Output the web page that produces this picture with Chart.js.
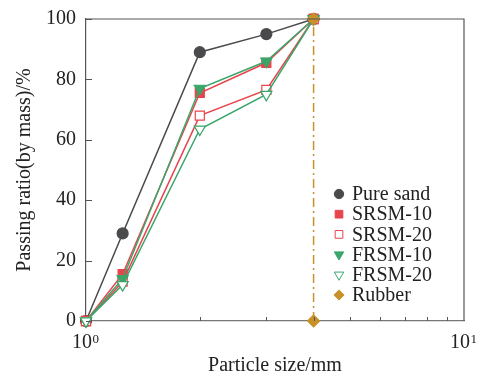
<!DOCTYPE html>
<html>
<head>
<meta charset="utf-8">
<script src="https://cdn.jsdelivr.net/npm/chart.js@4/dist/chart.umd.min.js"></script>
<style>
  html, body { margin: 0; padding: 0; background: #fff; }
  #wrap { width: 481px; height: 378px; }
</style>
</head>
<body>
<div id="wrap"><canvas id="myChart" width="481" height="378"></canvas></div>
<script>
// Sieve sizes (mm) and passing ratios (%)
const sizes = [1, 1.25, 2, 3, 4];
const pureSand = [0, 29, 89, 95, 100];
const srsm10 = [0, 15.5, 75.5, 85.5, 100];
const srsm20 = [0, 13, 68, 76.5, 100];
const frsm10 = [0, 14, 77, 86, 100];
const frsm20 = [0, 12, 63.5, 75, 100];
const rubberSize = [4, 4];
const rubber = [0, 100];
const yTicks = [0, 20, 40, 60, 80, 100];
const xMajor = [1, 10];
const xExponents = ['0', '1'];
const seriesNames = ['Pure sand', 'SRSM-10', 'SRSM-20', 'FRSM-10', 'FRSM-20', 'Rubber'];

const FONT = "'Liberation Serif', 'Times New Roman', serif";
const AXIS = '#555';

function pts(xs, ys) {
    return xs.map((x, i) => ({ x: x, y: ys[i] }));
}

function series(label, xs, ys, color, style, filled, radius, rotation, order, dash) {
    return {
        label: label,
        data: pts(xs, ys),
        borderColor: color,
        backgroundColor: color,
        borderWidth: 1.5,
        borderDash: dash || [],
        pointStyle: style,
        pointRadius: radius,
        pointRotation: rotation,
        pointBackgroundColor: filled ? color : '#fff',
        pointBorderColor: color,
        pointBorderWidth: 1.2,
        tension: 0,
        clip: false,
        order: order
    };
}

// Inward ticks, the box frame, exponents and the legend inside the plot
const framePlugin = {
    id: 'frame',
    afterDraw(chart) {
        const { ctx, chartArea: a, scales } = chart;
        ctx.save();
        ctx.strokeStyle = AXIS;
        ctx.lineWidth = 1.2;
        ctx.beginPath();
        ctx.moveTo(a.left, a.top);
        ctx.lineTo(a.right, a.top);
        ctx.lineTo(a.right, a.bottom);
        ctx.stroke();
        // y ticks (inward)
        ctx.lineWidth = 1;
        yTicks.forEach(v => {
            const y = Math.round(scales.y.getPixelForValue(v)) + 0.5;
            ctx.beginPath();
            ctx.moveTo(a.left, y);
            ctx.lineTo(a.left + 6, y);
            ctx.stroke();
        });
        // x minor ticks (inward)
        for (let v = 2; v <= 9; v++) {
            const x = Math.round(scales.x.getPixelForValue(v)) + 0.5;
            ctx.beginPath();
            ctx.moveTo(x, a.bottom);
            ctx.lineTo(x, a.bottom - 4);
            ctx.stroke();
        }
        // exponents of the x tick labels
        ctx.font = '20px ' + FONT;
        const w10 = ctx.measureText('10').width;
        const wAll = ctx.measureText('10\u2009\u2009').width;
        ctx.font = '13px ' + FONT;
        ctx.fillStyle = '#222';
        ctx.textBaseline = 'top';
        ctx.textAlign = 'left';
        xMajor.forEach((v, i) => {
            const x = scales.x.getPixelForValue(v) - wAll / 2 + w10 + 0.5;
            ctx.fillText(xExponents[i], x, a.bottom + 12);
        });
        // legend
        const lx = 339, tx = 352, ly0 = 194, dy = 20.2;
        ctx.font = '20px ' + FONT;
        ctx.textBaseline = 'middle';
        ctx.textAlign = 'left';
        chart.data.datasets.forEach((ds, i) => {
            const y = ly0 + i * dy;
            ctx.fillStyle = ds.pointBackgroundColor;
            ctx.strokeStyle = ds.pointBorderColor;
            Chart.helpers.drawPoint(ctx, {
                pointStyle: ds.pointStyle,
                radius: ds.pointRadius * 0.85,
                rotation: ds.pointRotation,
                borderWidth: ds.pointBorderWidth
            }, lx, y);
            ctx.fillStyle = '#222';
            ctx.fillText(ds.label, tx, y + 1);
        });
        ctx.restore();
    }
};

const ctx = document.getElementById('myChart');
new Chart(ctx, {
    type: 'line',
    data: {
        datasets: [
            series(seriesNames[0], sizes, pureSand, '#4a4a4c', 'circle', true, 5.5, 0, 5),
            series(seriesNames[1], sizes, srsm10, '#e8444c', 'rect', true, 6.4, 0, 4),
            series(seriesNames[2], sizes, srsm20, '#e8444c', 'rect', false, 6.4, 0, 3),
            series(seriesNames[3], sizes, frsm10, '#3aa66a', 'triangle', true, 6.4, 180, 2),
            series(seriesNames[4], sizes, frsm20, '#3aa66a', 'triangle', false, 6.4, 180, 1),
            series(seriesNames[5], rubberSize, rubber, '#c8912a', 'rectRot', true, 6, 0, 0, [9, 4, 2, 4])
        ]
    },
    options: {
        responsive: false,
        animation: false,
        layout: { padding: { top: 19, right: 17, left: 0, bottom: 0 } },
        plugins: {
            legend: { display: false },
            tooltip: { enabled: false }
        },
        scales: {
            x: {
                type: 'logarithmic',
                min: 1,
                max: 10,
                afterFit: s => { s.height = 57; s.paddingLeft = 0; s.paddingRight = 0; },
                border: { display: true, color: '#777', width: 1.2 },
                grid: { display: true, drawOnChartArea: false, drawTicks: false },
                ticks: {
                    autoSkip: false,
                    maxRotation: 0,
                    padding: 10,
                    color: '#222',
                    font: { family: FONT, size: 20 },
                    callback: v => xMajor.includes(v) ? '10\u2009\u2009' : ''
                },
                title: {
                    display: true,
                    text: 'Particle size/mm',
                    color: '#222',
                    font: { family: FONT, size: 20, lineHeight: 1.2 },
                    padding: { top: 0, bottom: 0 }
                }
            },
            y: {
                min: 0,
                max: 100,
                afterFit: s => { s.width = 86; s.paddingTop = 0; s.paddingBottom = 0; },
                border: { display: true, color: AXIS, width: 1.2 },
                grid: { display: true, drawOnChartArea: false, drawTicks: false },
                ticks: {
                    stepSize: 20,
                    padding: 10,
                    color: '#222',
                    font: { family: FONT, size: 20 }
                },
                title: {
                    display: true,
                    text: 'Passing ratio(by mass)/%',
                    color: '#222',
                    font: { family: FONT, size: 20, lineHeight: 1.2 },
                    padding: { top: 13, bottom: 0 }
                }
            }
        }
    },
    plugins: [framePlugin]
});
</script>
</body>
</html>
